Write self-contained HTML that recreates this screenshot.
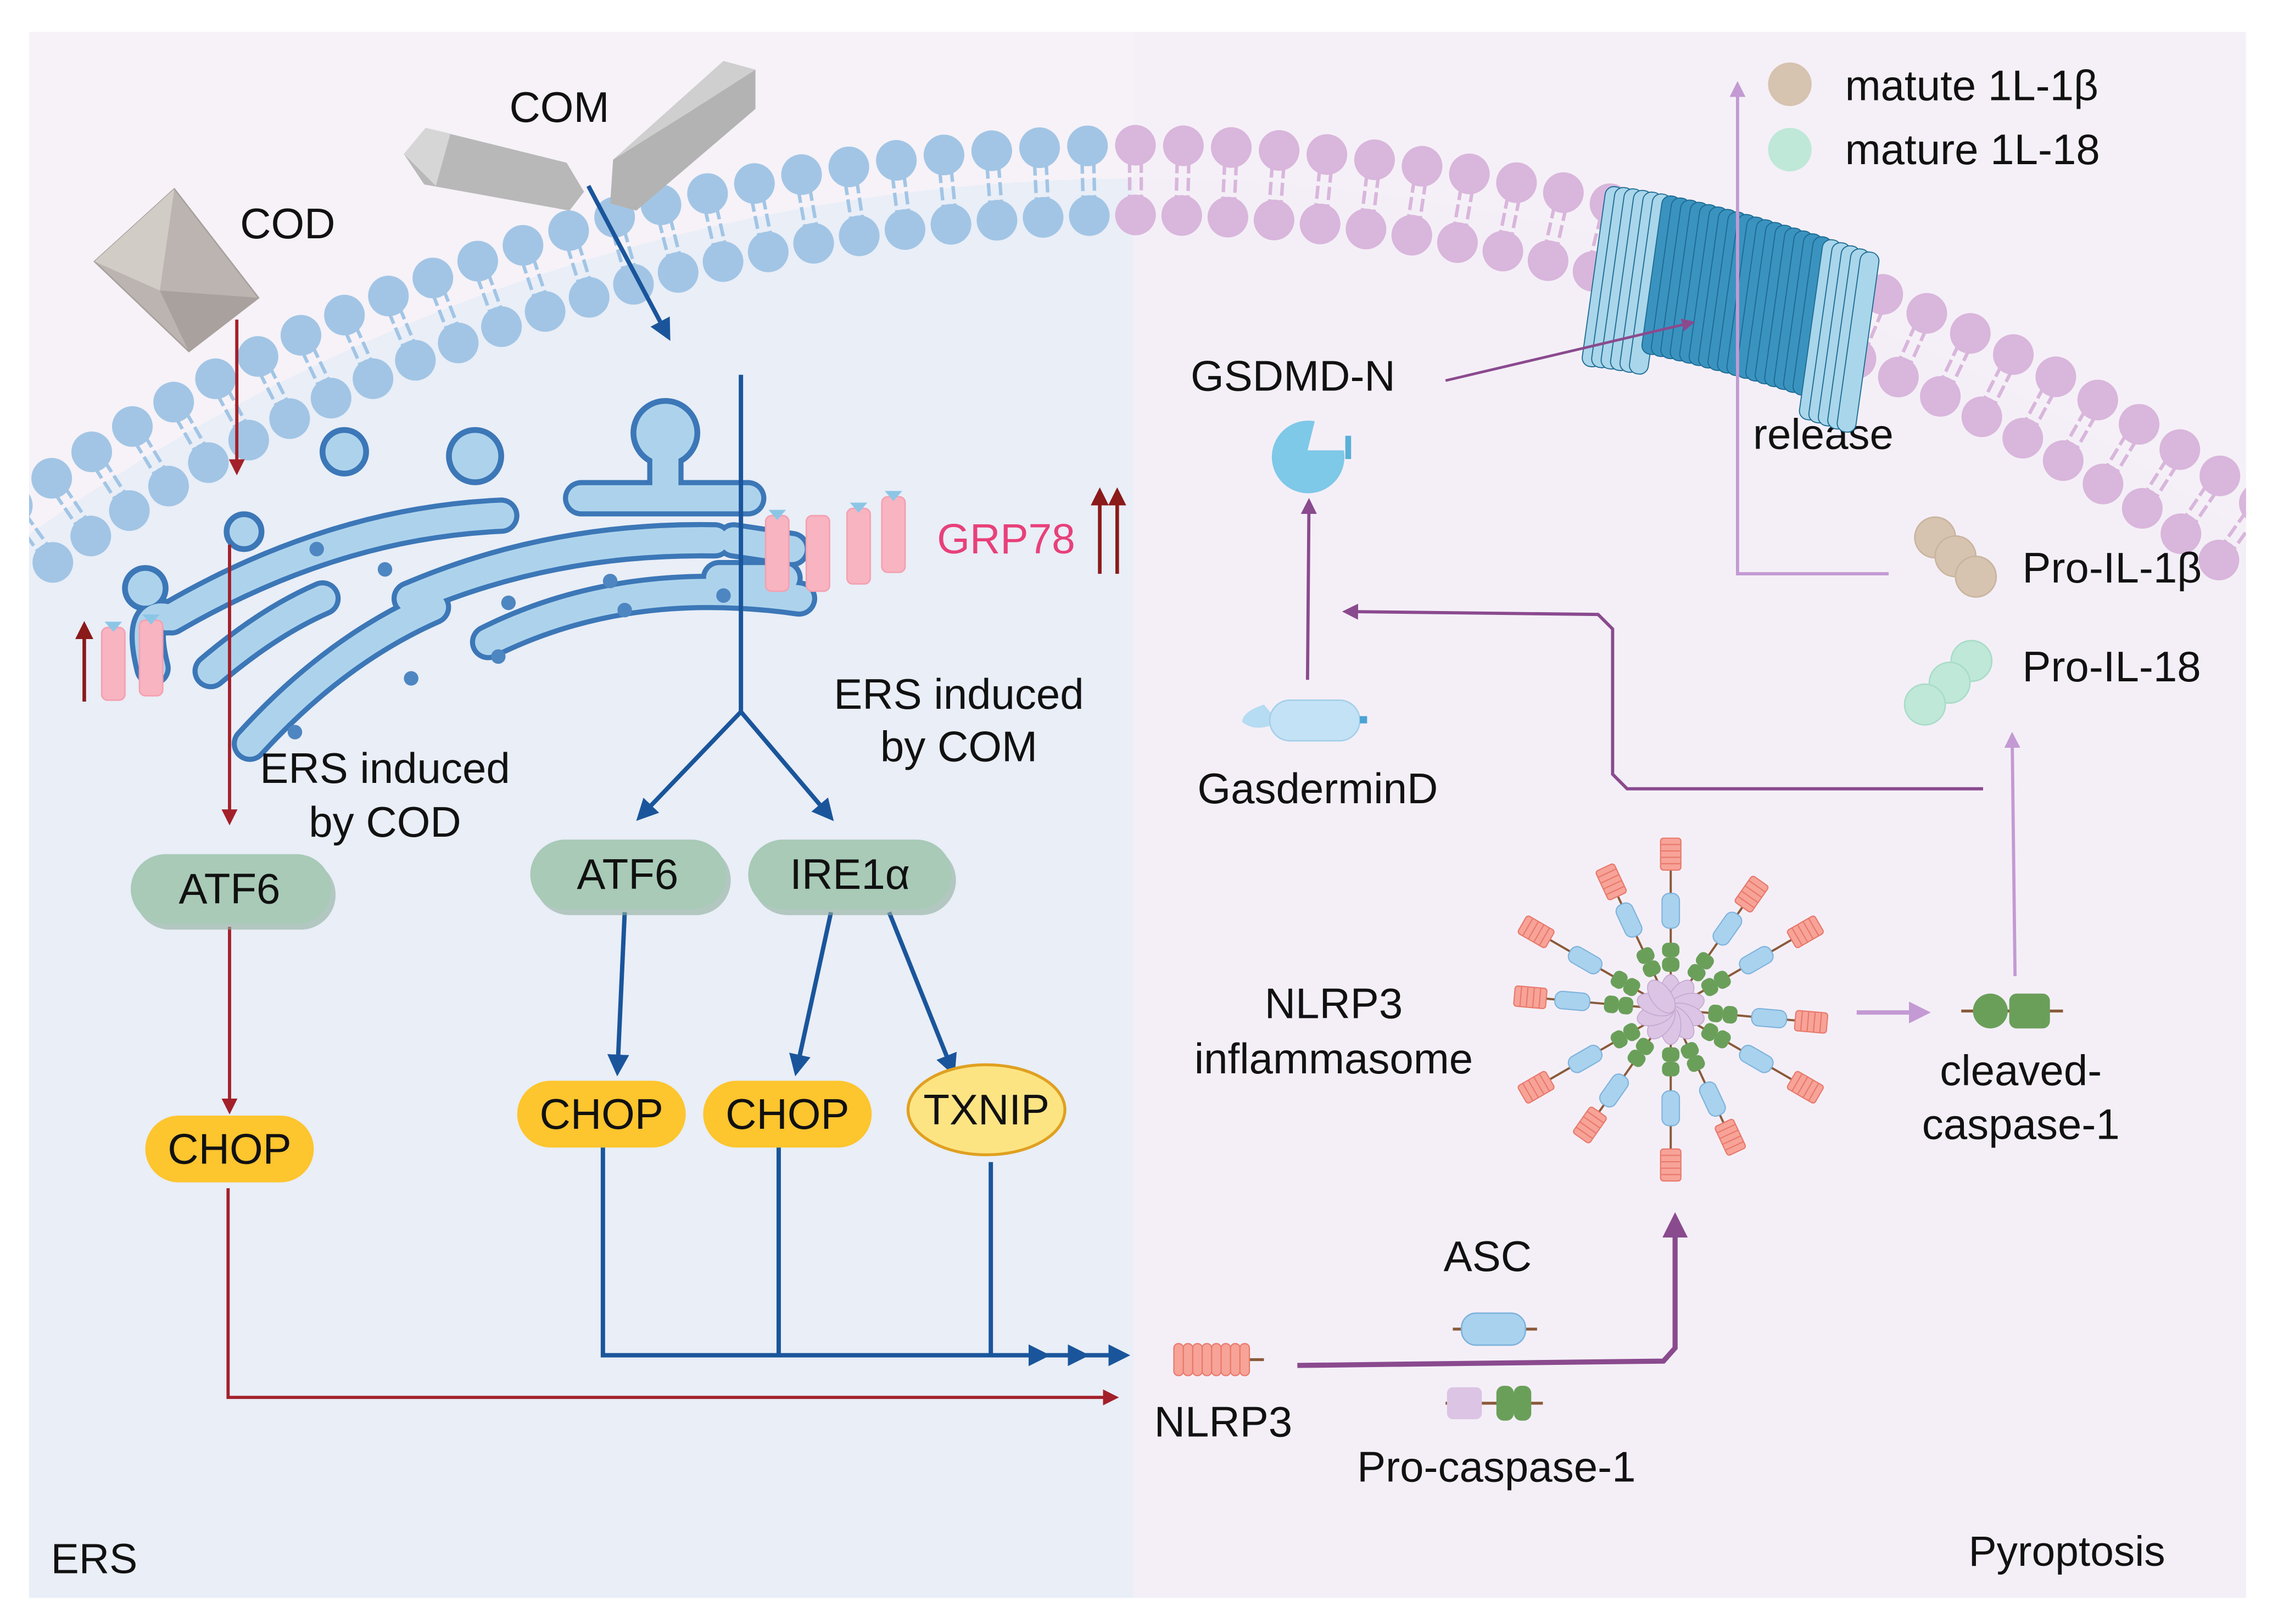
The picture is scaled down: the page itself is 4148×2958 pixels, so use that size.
<!DOCTYPE html>
<html><head><meta charset="utf-8"><style>
html,body{margin:0;padding:0;background:#fff;overflow:hidden;width:4148px;height:2958px}
svg{display:block}
text{font-family:"Liberation Sans",sans-serif;fill:#111}
</style></head><body>
<svg id="s" width="4148" height="2958" viewBox="0 0 1568 1118" preserveAspectRatio="none" xmlns="http://www.w3.org/2000/svg">
<defs>
<clipPath id="cl"><rect x="20" y="22" width="760" height="1078"/></clipPath>
<clipPath id="cr"><rect x="780" y="22" width="766" height="1078"/></clipPath>
<clipPath id="call"><rect x="20" y="22" width="1526" height="1078"/></clipPath>
<marker id="mr" viewBox="0 0 10 10" refX="8" refY="5" markerWidth="5" markerHeight="5" orient="auto"><path d="M0,0L10,5L0,10z" fill="#a3202a"/></marker>
<marker id="mdr" viewBox="0 0 10 10" refX="8" refY="5" markerWidth="5" markerHeight="5" orient="auto"><path d="M0,0L10,5L0,10z" fill="#8b1a1a"/></marker>
<marker id="mb" viewBox="0 0 10 10" refX="8" refY="5" markerWidth="5" markerHeight="5" orient="auto"><path d="M0,0L10,5L0,10z" fill="#1a559b"/></marker>
<marker id="mp" viewBox="0 0 10 10" refX="8" refY="5" markerWidth="5" markerHeight="5" orient="auto"><path d="M0,0L10,5L0,10z" fill="#8a4a8e"/></marker>
<marker id="ml" viewBox="0 0 10 10" refX="8" refY="5" markerWidth="5" markerHeight="5" orient="auto"><path d="M0,0L10,5L0,10z" fill="#c39ad3"/></marker>
</defs>
<rect x="0" y="0" width="1568" height="1118" fill="#fff"/>
<rect x="20" y="22" width="760" height="1078" fill="#f6f2f8"/>
<rect x="780" y="22" width="766" height="1078" fill="#f5f0f7"/>
<circle cx="783" cy="1433" r="1310" fill="#e9eef7" clip-path="url(#cl)"/>
<circle cx="783" cy="1433" r="1310" fill="#f4eff7" clip-path="url(#cr)"/>
<g id="mem" clip-path="url(#call)"></g>

<!-- ER -->
<g fill="none" stroke-linecap="round" id="er">
<g stroke="#3c77b7" stroke-width="25">
<path d="M118,425 Q230,360 345,355"/>
<path d="M145,462 Q185,428 222,412"/>
<path d="M172,512 Q230,448 298,418"/>
<path d="M282,412 Q380,370 492,372"/>
<path d="M400,343 L515,343"/>
<path d="M336,442 Q430,395 550,412"/>
<path d="M505,372 L545,378"/>
<path d="M495,398 L540,398"/>
<path d="M458,300 L458,340"/>
<path d="M105,460 Q95,420 115,425"/>
</g>
<circle cx="458" cy="298" r="24" fill="#3c77b7"/>
<circle cx="100" cy="405" r="16" fill="#3c77b7"/>
<g stroke="#add3ec" stroke-width="18">
<path d="M118,425 Q230,360 345,355"/>
<path d="M145,462 Q185,428 222,412"/>
<path d="M172,512 Q230,448 298,418"/>
<path d="M282,412 Q380,370 492,372"/>
<path d="M400,343 L515,343"/>
<path d="M336,442 Q430,395 550,412"/>
<path d="M505,372 L545,378"/>
<path d="M495,398 L540,398"/>
<path d="M458,300 L458,340"/>
<path d="M105,460 Q95,420 115,425"/>
</g>
<circle cx="458" cy="298" r="20" fill="#add3ec"/>
<circle cx="100" cy="405" r="12" fill="#add3ec"/>
</g>
<g fill="#add3ec" stroke="#3c77b7" stroke-width="4">
<circle cx="237" cy="311" r="15"/><circle cx="327" cy="314" r="18"/><circle cx="168" cy="366" r="12"/>
</g>
<g fill="#4e86c1">
<circle cx="218" cy="378" r="5"/><circle cx="265" cy="392" r="5"/><circle cx="203" cy="504" r="5"/><circle cx="283" cy="467" r="5"/><circle cx="350" cy="415" r="5"/><circle cx="420" cy="400" r="5"/><circle cx="343" cy="452" r="5"/><circle cx="430" cy="420" r="5"/><circle cx="498" cy="410" r="5"/>
</g>

<!-- pink receptors -->
<g fill="#f8b4c0" stroke="#f4a0b0" stroke-width="1">
<rect x="70" y="432" width="16" height="50" rx="4"/><rect x="96" y="427" width="16" height="52" rx="4"/>
<rect x="527" y="355" width="16" height="52" rx="4"/><rect x="555" y="355" width="16" height="52" rx="4"/><rect x="583" y="350" width="16" height="52" rx="4"/><rect x="607" y="342" width="16" height="52" rx="4"/>
</g>
<g fill="#8cc6e6"><path d="M72,428h12l-6,7z"/><path d="M98,423h12l-6,7z"/><path d="M529,351h12l-6,7z"/><path d="M585,346h12l-6,7z"/><path d="M609,338h12l-6,7z"/></g>

<!-- crystals -->
<polygon points="120,130 178,205 130,242 65,180" fill="#bcb4b0" stroke="#a8a09c"/>
<polygon points="65,180 120,130 110,200" fill="#d2ccc6"/>
<polygon points="110,200 178,205 130,242" fill="#a9a19d"/>
<polygon points="293,88 390,112 402,132 392,145 292,127 278,106" fill="#b8b8b8"/>
<polygon points="293,88 310,92 300,128 278,106" fill="#d6d6d6"/>
<polygon points="498,42 520,48 520,75 438,145 420,140 422,110" fill="#b3b3b3"/>
<polygon points="498,42 520,48 470,80 422,110" fill="#cfcfcf"/>

<!-- left arrows -->
<g stroke="#a3202a" stroke-width="2.2" fill="none">
<line x1="163" y1="220" x2="163" y2="325" marker-end="url(#mr)"/>
<line x1="158" y1="375" x2="158" y2="566" marker-end="url(#mr)"/>
<line x1="158" y1="638" x2="158" y2="765" marker-end="url(#mr)"/>
<polyline points="157,818 157,962 768,962" marker-end="url(#mr)"/>
</g>
<g stroke="#8b1a1a" stroke-width="2.5">
<line x1="58" y1="483" x2="58" y2="430" marker-end="url(#mdr)"/>
<line x1="757" y1="395" x2="757" y2="338" marker-end="url(#mdr)"/>
<line x1="769" y1="395" x2="769" y2="338" marker-end="url(#mdr)"/>
</g>
<g stroke="#1a559b" stroke-width="3" fill="none">
<line x1="405" y1="128" x2="460" y2="232" marker-end="url(#mb)"/>
<polyline points="510,258 510,490"/>
<line x1="510" y1="490" x2="440" y2="563" marker-end="url(#mb)"/>
<line x1="510" y1="490" x2="572" y2="563" marker-end="url(#mb)"/>
<line x1="430" y1="628" x2="425" y2="738" marker-end="url(#mb)"/>
<line x1="572" y1="628" x2="548" y2="738" marker-end="url(#mb)"/>
<line x1="612" y1="628" x2="656" y2="738" marker-end="url(#mb)"/>
<polyline points="415,790 415,933 720,933" marker-end="url(#mb)"/>
<line x1="536" y1="790" x2="536" y2="933"/>
<line x1="682" y1="800" x2="682" y2="933"/>
<line x1="700" y1="933" x2="747" y2="933" marker-end="url(#mb)"/>
<line x1="730" y1="933" x2="775" y2="933" marker-end="url(#mb)"/>
</g>

<!-- pills -->
<g fill="#8fae9c" opacity="0.6"><rect x="93" y="592" width="138" height="48" rx="24"/><rect x="368" y="582" width="135" height="48" rx="24"/><rect x="518" y="582" width="140" height="48" rx="24"/></g>
<g fill="#a8cab7"><rect x="90" y="588" width="138" height="48" rx="24"/><rect x="365" y="578" width="135" height="48" rx="24"/><rect x="515" y="578" width="140" height="48" rx="24"/></g>
<g fill="#fdc52e"><rect x="100" y="768" width="116" height="46" rx="23"/><rect x="356" y="744" width="116" height="46" rx="23"/><rect x="484" y="744" width="116" height="46" rx="23"/></g>
<ellipse cx="679" cy="764" rx="54" ry="31" fill="#fde483" stroke="#e0a020" stroke-width="2"/>

<g font-size="29.5" text-anchor="middle">
<text x="158" y="622">ATF6</text><text x="432" y="612">ATF6</text><text x="585" y="612">IRE1α</text>
<text x="158" y="801">CHOP</text><text x="414" y="777">CHOP</text><text x="542" y="777">CHOP</text><text x="679" y="774">TXNIP</text>
<text x="265" y="539">ERS induced</text><text x="265" y="576">by COD</text>
<text x="660" y="488">ERS induced</text><text x="660" y="524">by COM</text>
<text x="198" y="164">COD</text><text x="385" y="84">COM</text>
<text x="918" y="701">NLRP3</text><text x="918" y="739">inflammasome</text>
<text x="1391" y="747">cleaved-</text><text x="1391" y="784">caspase-1</text>
<text x="890" y="269">GSDMD-N</text><text x="907" y="553">GasderminD</text>
<text x="1255" y="309">release</text>
<text x="842" y="989">NLRP3</text><text x="1024" y="875">ASC</text><text x="1030" y="1020">Pro-caspase-1</text>
</g>
<text x="645" y="381" font-size="29" style="fill:#e8407a">GRP78</text>
<g font-size="29.5"><text x="1270" y="69">matute 1L-1β</text><text x="1270" y="113">mature 1L-18</text>
<text x="1392" y="401">Pro-IL-1β</text><text x="1392" y="469">Pro-IL-18</text></g>
<text x="35" y="1083" font-size="29">ERS</text><text x="1355" y="1078" font-size="29">Pyroptosis</text>

<!-- right side items -->
<circle cx="1232" cy="58" r="15" fill="#d6c3b0"/><circle cx="1232" cy="103" r="15" fill="#bfe8d8"/>
<g fill="#d6c3b0" stroke="#c9b49e"><circle cx="1332" cy="370" r="14"/><circle cx="1346" cy="383" r="14"/><circle cx="1360" cy="397" r="14"/></g>
<g fill="#bfe8d8" stroke="#a8dcc8"><circle cx="1357" cy="455" r="14"/><circle cx="1342" cy="470" r="14"/><circle cx="1325" cy="485" r="14"/></g>

<!-- pore -->
<g id="pore"></g>

<g fill="none" stroke-width="2.2">
<polyline points="1300,395 1196,395 1196,58" stroke="#c39ad3" marker-end="url(#ml)"/>
<line x1="1387" y1="672" x2="1385" y2="506" stroke="#c39ad3" marker-end="url(#ml)"/>
<line x1="1278" y1="697" x2="1326" y2="697" stroke="#c39ad3" stroke-width="3" marker-end="url(#ml)"/>
<polyline points="1365,543 1120,543 1110,533 1110,433 1100,423 926,421" stroke="#8a4a8e" marker-end="url(#mp)"/>
<line x1="900" y1="468" x2="901" y2="345" stroke="#8a4a8e" marker-end="url(#mp)"/>
<line x1="995" y1="262" x2="1165" y2="222" stroke="#8a4a8e" stroke-width="1.8" marker-end="url(#mp)"/>
<polyline points="893,940 1145,937 1153,928 1153,838" stroke="#8a4a8e" stroke-width="3.5" marker-end="url(#mp)"/>
</g>

<!-- GSDMD-N and GasderminD -->
<path d="M925,310 A25,25 0 1,1 905,290 L900,310 Z" fill="#7ec8e8"/>
<rect x="926" y="300" width="4" height="16" fill="#5ab0d8"/>
<path d="M870,485 q-15,5 -15,12 q10,8 25,0 z" fill="#b5dcf2"/>
<rect x="874" y="482" width="62" height="28" rx="14" fill="#c3e2f5" stroke="#a5cfe8"/>
<rect x="936" y="493" width="5" height="5" fill="#4aa4d4"/>

<!-- NLRP3 coil, ASC, procaspase -->
<g id="nlrp"></g>
<line x1="1000" y1="915" x2="1058" y2="915" stroke="#8a5a3a" stroke-width="2"/>
<rect x="1006" y="904" width="44" height="22" rx="10" fill="#a9d2ee" stroke="#7eb3dc"/>
<line x1="995" y1="966" x2="1062" y2="966" stroke="#8a5a3a" stroke-width="2"/>
<rect x="996" y="955" width="24" height="22" rx="4" fill="#dcc4e4"/>
<rect x="1030" y="954" width="12" height="24" rx="5" fill="#6a9f5a"/><rect x="1042" y="954" width="12" height="24" rx="5" fill="#6a9f5a"/>
<line x1="1350" y1="696" x2="1420" y2="696" stroke="#8a5a3a" stroke-width="2"/>
<circle cx="1370" cy="696" r="12" fill="#6a9f5a"/><rect x="1383" y="684" width="28" height="24" rx="5" fill="#6a9f5a"/>

<g id="star"></g>
</svg>
<script>
(function(){
var NS="http://www.w3.org/2000/svg";
function el(p,t,a){var e=document.createElementNS(NS,t);for(var k in a)e.setAttribute(k,a[k]);p.appendChild(e);return e;}
var mem=document.getElementById("mem");
var cx=783,cy=1433,R=1333,R2=1285;
for(var a=-Math.PI/2-0.62;a<=-Math.PI/2+0.62;a+=33/R){
 var x=cx+R*Math.cos(a),y=cy+R*Math.sin(a);
 var left=x<781; var hc=left?"#a2c5e5":"#d9b6dc";
 var ca=Math.cos(a),sa=Math.sin(a),px=-sa*4,py=ca*4;
 for(var s=-1;s<=1;s+=2){
  el(mem,"line",{x1:cx+(R-10)*ca+px*s,y1:cy+(R-10)*sa+py*s,x2:cx+(R2+10)*ca+px*s,y2:cy+(R2+10)*sa+py*s,stroke:hc,"stroke-width":2.4,"stroke-dasharray":"9 3"});
 }
 el(mem,"circle",{cx:x,cy:y,r:14,fill:hc});
 el(mem,"circle",{cx:cx+R2*ca,cy:cy+R2*sa,r:14,fill:hc});
}
var pore=document.getElementById("pore");
for(var i=0;i<28;i++){
 var xx=1098+i*6.5; var t=i/27; var yy=128+Math.pow(t,1.3)*45;
 var light=(i<6||i>22);
 var h=light?125:110;
 el(pore,"rect",{x:xx,y:yy,width:13,height:h,rx:6,fill:light?"#a9d6ea":"#3a93bf",stroke:"#1d6a93","stroke-width":0.7,transform:"rotate(8 "+(xx+6)+" "+(yy+55)+")"});
}
var nl=document.getElementById("nlrp");
el(nl,"line",{x1:808,y1:936,x2:870,y2:936,stroke:"#8a5a3a","stroke-width":2});
for(var j=0;j<8;j++)el(nl,"rect",{x:808+j*6.5,y:925,width:6.5,height:22,rx:3,fill:"#f7a398",stroke:"#e8786a","stroke-width":0.8});
var st=document.getElementById("star");var X=1150,Y=695;
for(var k=0;k<12;k++){
 var ang=(-90+k*30+(k%2?5:0));var L=(k%2?108:118);
 var g=el(st,"g",{transform:"translate("+X+","+Y+") rotate("+ang+")"});
 el(g,"line",{x1:10,y1:0,x2:L,y2:0,stroke:"#8a5a3a","stroke-width":1.5});
 el(g,"rect",{x:26,y:-6,width:10,height:12,rx:4,fill:"#6a9f5a"});
 el(g,"rect",{x:36,y:-6,width:10,height:12,rx:4,fill:"#6a9f5a"});
 el(g,"rect",{x:56,y:-6,width:24,height:12,rx:5,fill:"#a9d2ee",stroke:"#7eb3dc","stroke-width":0.8});
 el(g,"rect",{x:L-22,y:-7,width:22,height:14,rx:2,fill:"#f7a398",stroke:"#e8786a","stroke-width":0.8});
 for(var q=1;q<5;q++)el(g,"line",{x1:L-22+q*4.4,y1:-7,x2:L-22+q*4.4,y2:7,stroke:"#e8786a","stroke-width":0.8});
}
for(var m=0;m<10;m++){el(st,"ellipse",{cx:X,cy:Y-11,rx:7,ry:13,fill:"#dcc4e4",stroke:"#c3a6d0","stroke-width":0.6,transform:"rotate("+(m*36)+" "+X+" "+Y+")"});}
})();
</script>
</body></html>
